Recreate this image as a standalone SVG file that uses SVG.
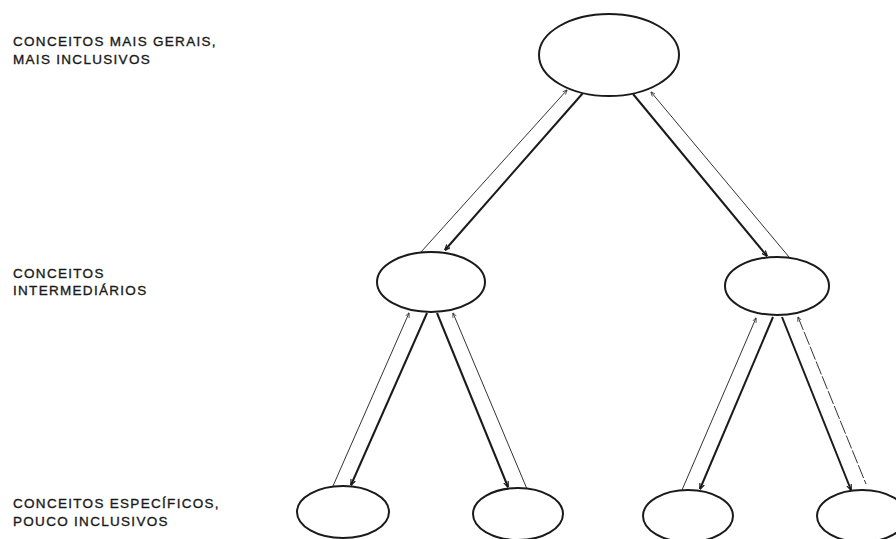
<svg xmlns="http://www.w3.org/2000/svg" width="896" height="539" viewBox="0 0 896 539">
<style>
.node{fill:#fff;stroke:#1a1a1a;stroke-width:2}
.thick{stroke:#1a1a1a;stroke-width:2;fill:none}
.thin{stroke:#333;stroke-width:1;fill:none}
.lbl{font-family:"Liberation Sans",Arial,sans-serif;font-size:13.5px;letter-spacing:1.3px;fill:#1a1a1a;stroke:#1a1a1a;stroke-width:0.35}
</style>
<defs>
<marker id="down" viewBox="0 0 10 10" refX="9" refY="5" markerWidth="6" markerHeight="6" markerUnits="userSpaceOnUse" orient="auto">
<path d="M0,1 L10,5 L0,9" fill="none" stroke="#1a1a1a" stroke-width="2"/>
</marker>
<marker id="up" viewBox="0 0 10 10" refX="1" refY="5" markerWidth="5" markerHeight="5" markerUnits="userSpaceOnUse" orient="auto">
<path d="M10,1 L0,5 L10,9" fill="none" stroke="#333" stroke-width="1.5"/>
</marker>
</defs>
<rect width="896" height="539" fill="#fff"/>
<g id="labels">
<text class="lbl" x="13" y="46">CONCEITOS MAIS GERAIS,</text>
<text class="lbl" x="13" y="64">MAIS INCLUSIVOS</text>
<text class="lbl" x="13" y="278">CONCEITOS</text>
<text class="lbl" x="13" y="295">INTERMEDIÁRIOS</text>
<text class="lbl" x="13" y="508">CONCEITOS ESPECÍFICOS,</text>
<text class="lbl" x="13" y="526">POUCO INCLUSIVOS</text>
</g>
<g id="connectors">
<line class="thin" x1="567" y1="90" x2="421" y2="252" marker-start="url(#up)"/>
<line class="thick" x1="583" y1="93" x2="445" y2="250" marker-end="url(#down)"/>
<line class="thick" x1="633" y1="94" x2="767" y2="256" marker-end="url(#down)"/>
<line class="thin" x1="651" y1="92" x2="789" y2="257" marker-start="url(#up)"/>
<line class="thin" x1="409" y1="313" x2="333" y2="486" marker-start="url(#up)"/>
<line class="thick" x1="427" y1="313" x2="351" y2="485" marker-end="url(#down)"/>
<line class="thick" x1="437" y1="313" x2="508" y2="487" marker-end="url(#down)"/>
<line class="thin" x1="453" y1="313" x2="527" y2="489" marker-start="url(#up)"/>
<line class="thin" x1="756" y1="318" x2="682" y2="490" marker-start="url(#up)"/>
<line class="thick" x1="773" y1="317" x2="700" y2="489" marker-end="url(#down)"/>
<line class="thick" x1="782" y1="317" x2="851" y2="490" marker-end="url(#down)"/>
<line class="thin" x1="798" y1="317" x2="866" y2="484" stroke-dasharray="14 2" marker-start="url(#up)"/>
</g>
<g id="n-top"><ellipse class="node" cx="609" cy="55" rx="70" ry="41"/></g>
<g id="n-mid-left"><ellipse class="node" cx="431" cy="282" rx="54" ry="30"/></g>
<g id="n-mid-right"><ellipse class="node" cx="777" cy="286" rx="52" ry="29"/></g>
<g id="n-bot-1"><ellipse class="node" cx="343" cy="512" rx="46" ry="26"/></g>
<g id="n-bot-2"><ellipse class="node" cx="518" cy="514" rx="45" ry="26"/></g>
<g id="n-bot-3"><ellipse class="node" cx="688" cy="516" rx="45" ry="26"/></g>
<g id="n-bot-4"><ellipse class="node" cx="862" cy="516" rx="45" ry="26"/></g>
</svg>
